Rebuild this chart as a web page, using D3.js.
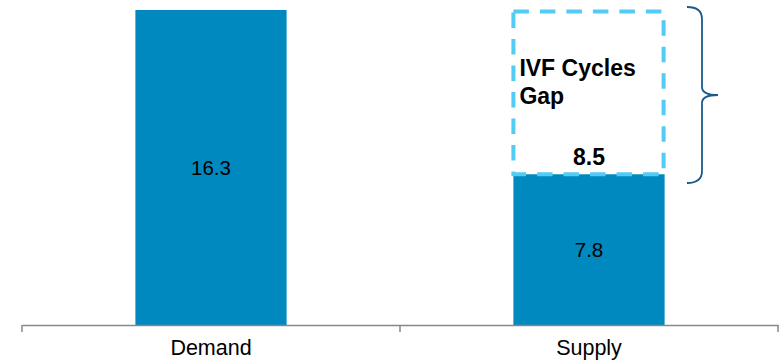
<!DOCTYPE html>
<html>
<head>
<meta charset="utf-8">
<script src="https://cdn.jsdelivr.net/npm/d3@7/dist/d3.min.js"></script>
<style>
  html, body { margin: 0; padding: 0; background: #fff; }
  svg { display: block; font-family: "Liberation Sans", Arial, sans-serif; }
</style>
</head>
<body>
<svg id="chart" width="781" height="361"></svg>
<script>
// IVF cycles: demand vs. supply (thousands)
const categories = ["Demand", "Supply"];
const values = [16.3, 7.8];
const gapCategory = "Supply";
const gapValue = 8.5;
const gapLabel = ["IVF Cycles", "Gap"];

const width = 781, height = 361;
const svg = d3.select("#chart");

const x = d3.scaleBand().domain(categories).range([22, 778]).padding(0);
const y = d3.scaleLinear().domain([0, 16.3]).range([325, 10]);
const barW = x.bandwidth() * 0.4;
const barX = c => x(c) + (x.bandwidth() - barW) / 2;

const barColor = "#0089bf";
const gapColor = "#52cbf5";

// solid bars
svg.selectAll("rect.bar").data(categories).join("rect")
  .attr("class", "bar")
  .attr("x", d => barX(d))
  .attr("width", barW)
  .attr("y", (d, i) => y(values[i]))
  .attr("height", (d, i) => y(0) - y(values[i]))
  .attr("fill", barColor);

// value labels inside bars
svg.selectAll("text.val").data(categories).join("text")
  .attr("class", "val")
  .attr("x", d => x(d) + x.bandwidth() / 2)
  .attr("y", (d, i) => y(values[i] / 2) + 7.5)
  .attr("text-anchor", "middle")
  .attr("font-size", 20.5)
  .attr("fill", "#000")
  .text((d, i) => values[i]);

// dashed gap box stacked on the supply bar
const supplyIdx = categories.indexOf(gapCategory);
const gapBase = values[supplyIdx];
const gx = barX(gapCategory);
const gTop = y(gapBase + gapValue);
const gBot = y(gapBase);
svg.append("rect")
  .attr("x", gx)
  .attr("y", gTop + 1.5)
  .attr("width", barW - 1)
  .attr("height", gBot - gTop - 1.5)
  .attr("fill", "none")
  .attr("stroke", gapColor)
  .attr("stroke-width", 4)
  .attr("stroke-dasharray", "15.5,11");

const gl = svg.append("text")
  .attr("x", gx + 6)
  .attr("y", 76)
  .attr("font-size", 23)
  .attr("font-weight", "bold")
  .attr("fill", "#000");
gl.selectAll("tspan").data(gapLabel).join("tspan")
  .attr("x", gx + 6)
  .attr("dy", (d, i) => i === 0 ? 0 : 28)
  .text(d => d);

svg.append("text")
  .attr("x", x(gapCategory) + x.bandwidth() / 2)
  .attr("y", gBot - 9.5)
  .attr("text-anchor", "middle")
  .attr("font-size", 23)
  .attr("font-weight", "bold")
  .attr("fill", "#000")
  .text(gapValue);

// brace to the right of the gap
const bx = 687, bTop = 7, bBot = 183, bMid = 95, bTip = 718;
const bxc = 702;
svg.append("path")
  .attr("d",
    `M${bx},${bTop} Q${bxc},${bTop} ${bxc},${bTop + 12}` +
    ` L${bxc},${bMid - 8} Q${bxc},${bMid} ${bTip},${bMid}` +
    ` Q${bxc},${bMid} ${bxc},${bMid + 8}` +
    ` L${bxc},${bBot - 12} Q${bxc},${bBot} ${bx},${bBot}`)
  .attr("fill", "none")
  .attr("stroke", "#1b5b8c")
  .attr("stroke-width", 1.8);

// category axis
const axis = d3.axisBottom(x).tickSize(0).tickPadding(15);
const gAxis = svg.append("g").attr("transform", `translate(0,${y(0)})`).call(axis);
gAxis.attr("font-size", null).attr("font-family", null);
gAxis.select(".domain").attr("stroke", "#888").attr("stroke-width", 1.5);
gAxis.selectAll("text").attr("font-size", 21.5).attr("fill", "#000")
  .attr("font-family", "Liberation Sans, Arial, sans-serif");
// boundary ticks between categories
const edges = [x.range()[0], ...categories.slice(1).map(c => x(c)), x.range()[1]];
gAxis.selectAll("line.edge").data(edges).join("line")
  .attr("class", "edge")
  .attr("x1", d => d).attr("x2", d => d)
  .attr("y1", 0).attr("y2", 7)
  .attr("stroke", "#888").attr("stroke-width", 1.5);
</script>
</body>
</html>
